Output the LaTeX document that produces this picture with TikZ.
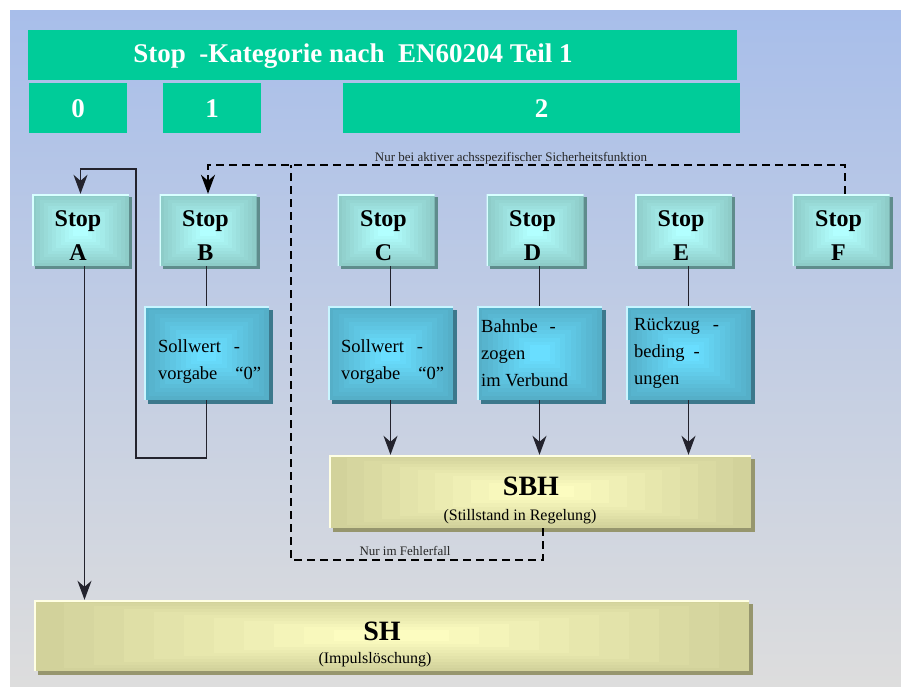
\documentclass[tikz,border=0pt]{standalone}
\usepackage{fontspec}
\setmainfont{Liberation Serif}
\usetikzlibrary{arrows.meta,calc,shadows}

\definecolor{bgtop}{RGB}{168,190,234}
\definecolor{bgmid}{RGB}{196,205,230}
\definecolor{bgbot}{RGB}{221,221,221}
\definecolor{headgreen}{RGB}{0,204,153}
\definecolor{stopout}{RGB}{142,204,200}
\definecolor{stopin}{RGB}{178,255,255}
\definecolor{stopedge}{RGB}{215,255,255}
\definecolor{stopshade}{RGB}{95,140,140}
\definecolor{actout}{RGB}{85,175,200}
\definecolor{actin}{RGB}{105,222,255}
\definecolor{actedge}{RGB}{200,245,255}
\definecolor{actshade}{RGB}{60,120,140}
\definecolor{stateout}{RGB}{210,210,155}
\definecolor{statein}{RGB}{252,252,192}
\definecolor{stateedge}{RGB}{255,255,228}
\definecolor{stateshade}{RGB}{150,150,110}
\definecolor{linecol}{RGB}{35,35,45}

\tikzset{
  % concentric rectangular gradient with a light top/left edge
  rectgrad/.style n args={3}{path picture={
      \foreach \k in {0,...,10}{
        \pgfmathtruncatemacro\pct{\k*10}
        \fill[#2!\pct!#1]
          ($(path picture bounding box.south west)!{\k*0.042}!(path picture bounding box.north east)$)
          rectangle
          ($(path picture bounding box.north east)!{\k*0.042}!(path picture bounding box.south west)$);
      }
      \draw[#3, line width=3pt]
        (path picture bounding box.south west) -- (path picture bounding box.north west)
        -- (path picture bounding box.north east);
  }},
  headbox/.style={rectangle, fill=headgreen, inner sep=0pt, anchor=north west,
    minimum height=50pt, text=white, font=\fontsize{27}{32}\selectfont\bfseries},
  stopbox/.style={rectangle, inner sep=0pt, minimum width=97pt, minimum height=72pt,
    drop shadow={shadow xshift=3pt, shadow yshift=-3pt, fill=stopshade, opacity=1},
    rectgrad={stopout}{stopin}{stopedge}},
  actbox/.style={rectangle, inner sep=0pt, minimum width=125pt, minimum height=94pt,
    drop shadow={shadow xshift=4pt, shadow yshift=-4pt, fill=actshade, opacity=1},
    rectgrad={actout}{actin}{actedge}},
  statebox/.style={rectangle, inner sep=0pt,
    drop shadow={shadow xshift=4pt, shadow yshift=-4pt, fill=stateshade, opacity=1},
    rectgrad={stateout}{statein}{stateedge}},
  stoplabel/.style={align=center, inner sep=0pt, font=\fontsize{24}{34}\selectfont\bfseries},
  actlabel/.style={align=left, anchor=west, inner sep=0pt, font=\fontsize{18.5}{27}\selectfont},
  statetitle/.style={inner sep=0pt, font=\fontsize{28}{32}\selectfont\bfseries},
  statesub/.style={inner sep=0pt, font=\fontsize{16}{19}\selectfont},
  note/.style={inner sep=0pt, font=\fontsize{13}{15}\selectfont, text=black!85},
  link/.style={draw=linecol, line width=1.3pt},
  tipstyle/.style={-{Stealth[length=19pt,width=14pt,inset=6pt]}},
  flow/.style={link, tipstyle},
  optional/.style={draw=black, line width=2pt, dash pattern=on 8pt off 5pt},
}

\begin{document}
\begin{tikzpicture}[x=1pt,y=-1pt]
  \useasboundingbox (0,0) rectangle (901,686);
  \fill[white] (0,0) rectangle (901,686);
  \shade[top color=bgtop, middle color=bgmid, bottom color=bgbot] (10,10) rectangle (901,686);

  % header
  \node[headbox, minimum width=709pt] (title) at (28,30) {};
  \node[inner sep=0pt, text=white, font=\fontsize{27}{32}\selectfont\bfseries] (titletext)
    at (353,56) {Stop\ \ -Kategorie nach\ \ EN60204 Teil 1};
  \node[headbox, minimum width=98pt] (cat0) at (29,83) {0};
  \node[headbox, minimum width=98pt] (cat1) at (163,83) {1};
  \node[headbox, minimum width=397pt] (cat2) at (343,83) {2};

  % stop types
  \node[stopbox] (A) at (80.5,230) {};
  \node[stopbox] (B) at (208,230) {};
  \node[stopbox] (C) at (386,230) {};
  \node[stopbox] (D) at (535,230) {};
  \node[stopbox] (E) at (683.5,230) {};
  \node[stopbox] (F) at (841,230) {};
  \node[stoplabel] (tA) at (78,236) {Stop\\A};
  \node[stoplabel] (tB) at (205.5,236) {Stop\\B};
  \node[stoplabel] (tC) at (383.5,236) {Stop\\C};
  \node[stoplabel] (tD) at (532.5,236) {Stop\\D};
  \node[stoplabel] (tE) at (681,236) {Stop\\E};
  \node[stoplabel] (tF) at (838.5,236) {Stop\\F};

  % braking actions
  \node[actbox] (sB) at (206.5,353) {};
  \node[actbox] (sC) at (390.5,353) {};
  \node[actbox] (sD) at (539.5,353) {};
  \node[actbox] (sE) at (688.5,353) {};
  \node[actlabel] (tsB) at (158,362) {Sollwert\hspace{13pt}-\\vorgabe\hspace{18pt}“0”};
  \node[actlabel] (tsC) at (341,362) {Sollwert\hspace{13pt}-\\vorgabe\hspace{18pt}“0”};
  \node[actlabel] (tsD) at (481,353) {Bahnbe\hspace{12pt}-\\zogen\\im Verbund};
  \node[actlabel] (tsE) at (634,353) {Rückzug\hspace{13pt}-\\beding\hspace{9pt}-\\ungen};

  % resulting states
  \node[statebox, minimum width=422pt, minimum height=73pt] (SBH) at (540,491.5) {};
  \node[statetitle] (tSBH) at (531,486) {SBH};
  \node[statesub] (tSBHsub) at (520,517) {(Stillstand in Regelung)};
  \node[statebox, minimum width=715pt, minimum height=71pt] (SH) at (391.5,635.5) {};
  \node[statetitle] (tSH) at (382,631) {SH};
  \node[statesub] (tSHsub) at (375,660) {(Impulslöschung)};

  % connectors
  \draw[link] (sB.north) -- (sB.north |- B.south);
  \draw[link] (sC.north) -- (sC.north |- C.south);
  \draw[link] (sD.north) -- (sD.north |- D.south);
  \draw[link] (sE.north) -- (sE.north |- E.south);
  \draw[flow] (sC.south) -- (sC.south |- SBH.north);
  \draw[flow] (sD.south) -- (sD.south |- SBH.north);
  \draw[flow] (sE.south) -- (sE.south |- SBH.north);

  \coordinate (loopL) at (136,458);
  \coordinate (loopT) at (136,169);
  \draw[flow] (sB.south) |- (loopL) -- (loopT) -| (A.north);
  \draw[flow] ([xshift=4pt]A.south) -- ([xshift=4pt]A.south |- SH.north);

  \coordinate (dashY) at (0,165);
  \coordinate (dashL) at (291,165);
  \coordinate (dashB) at (291,560);
  \draw[optional, tipstyle] ([xshift=4pt]F.north) |- (B.north |- dashY) -- (B.north);
  \draw[optional] ([xshift=3pt]SBH.south) |- (dashB) -- (dashL);

  \node[note] (n1) at (511,158) {Nur bei aktiver achsspezifischer Sicherheitsfunktion};
  \node[note] (n2) at (405,551) {Nur im Fehlerfall};
\end{tikzpicture}
\end{document}
